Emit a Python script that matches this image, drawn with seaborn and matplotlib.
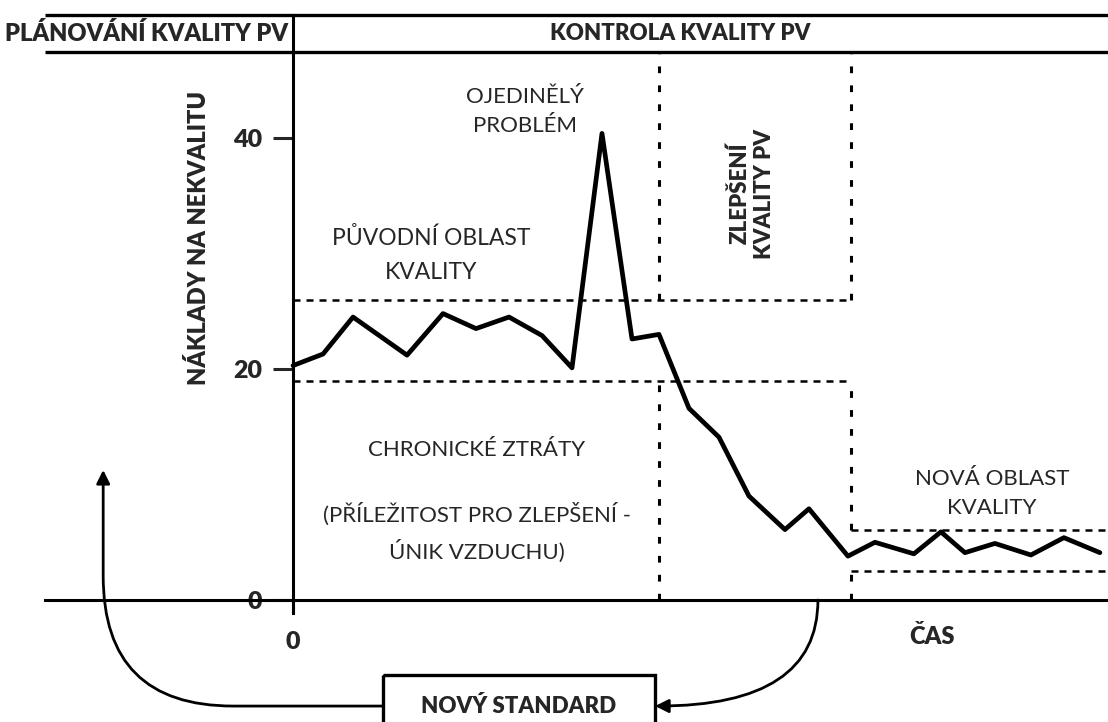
import matplotlib
matplotlib.use("Agg")
import matplotlib.pyplot as plt
import matplotlib.patches as patches
import seaborn as sns

# --- data (time in arbitrary units, cost of poor quality) ---
cas = [0, 1.0, 2.0, 3.8, 5.0, 6.1, 7.2, 8.3, 9.3, 10.3, 11.3, 12.2, 13.2,
       14.2, 15.2, 16.4, 17.2, 18.5, 19.4, 20.7, 21.6, 22.4, 23.4, 24.6, 25.7, 26.9]
naklady = [20.3, 21.3, 24.5, 21.2, 24.8, 23.5, 24.5, 22.9, 20.1, 40.4, 22.6, 23.0, 16.6,
           14.1, 9.0, 6.1, 7.9, 3.8, 5.0, 4.0, 5.9, 4.1, 4.9, 3.9, 5.4, 4.1]
y_ticks = [0, 20, 40]
x_ticks = [0]

# zones
puvodni_horni, puvodni_dolni = 26.0, 19.0   # original zone of quality
nova_horni, nova_dolni = 6.1, 2.5           # new zone of quality
zlepseni_od, zlepseni_do = 12.2, 18.6       # quality improvement period
pasmo_dole, pasmo_nahore = 47.45, 50.65     # header band

sns.set_style("white")
plt.rcParams['font.family'] = ['Lato', 'DejaVu Sans']
TUCNE = "heavy"

fig = plt.figure(figsize=(11.08, 7.22), dpi=100)
ax = fig.add_axes([0, 0, 1, 1])
ax.set_xlim(-9.77, 27.17)
ax.set_ylim(-10.56, 51.95)

sns.lineplot(x=cas, y=naklady, color="black", linewidth=3.4, ax=ax)

# axes as spines through origin
for s in ["top", "right"]:
    ax.spines[s].set_visible(False)
ax.spines["left"].set_position(("data", 0))
ax.spines["bottom"].set_position(("data", 0))
ax.spines["left"].set_bounds(-1.1, pasmo_nahore)
ax.spines["bottom"].set_bounds(-8.27, 27.17)
for s in ["left", "bottom"]:
    ax.spines[s].set_linewidth(2.2)
    ax.spines[s].set_color("black")

ax.set_yticks(y_ticks)
ax.set_yticklabels([str(v) for v in y_ticks], fontweight=TUCNE, fontsize=18)
ax.set_xticks(x_ticks)
ax.set_xticklabels([str(v) for v in x_ticks], fontweight=TUCNE, fontsize=18)
ax.tick_params(axis="y", direction="out", length=14.4, width=2.2, pad=8, left=True)
ax.tick_params(axis="x", direction="out", length=9, width=2.2, pad=13, bottom=True)
ax.get_yticklabels()[0].set_bbox(dict(facecolor="white", edgecolor="none", pad=6))

ax.set_ylabel("NÁKLADY NA NEKVALITU", fontweight=TUCNE, fontsize=17)
ax.yaxis.set_label_coords(210 / 1108, 1 - 238 / 722)
ax.set_xlabel("ČAS", fontweight=TUCNE, fontsize=17)
ax.xaxis.set_label_coords(932 / 1108, 1 - 637 / 722)
ax.xaxis.label.set_va("center")

# header band
ax.hlines([pasmo_dole, pasmo_nahore], -8.27, 27.17, color="black", linewidth=2.4)
ax.text(-4.9, 49.05, "PLÁNOVÁNÍ KVALITY PV", ha="center", va="center",
        fontweight=TUCNE, fontsize=17)
ax.text(12.9, 49.05, "KONTROLA KVALITY PV", ha="center", va="center",
        fontweight=TUCNE, fontsize=16)

# dashed zones
hdash = (0, (2.8, 2.4))
vdash = (0, (2.2, 4.0))
ax.hlines([puvodni_horni, puvodni_dolni], 0, zlepseni_do, color="black",
          linewidth=1.8, linestyle=hdash)
ax.hlines([nova_horni, nova_dolni], zlepseni_do, 27.17, color="black",
          linewidth=1.8, linestyle=hdash)
ax.vlines([zlepseni_od, zlepseni_do], puvodni_horni, pasmo_dole, color="black",
          linewidth=2.2, linestyle=vdash)
ax.vlines(zlepseni_od, 0, puvodni_dolni, color="black", linewidth=2.2, linestyle=vdash)
ax.vlines(zlepseni_do, nova_horni, puvodni_dolni, color="black", linewidth=2.2, linestyle=vdash)
ax.vlines(zlepseni_do, 0, nova_dolni, color="black", linewidth=2.2, linestyle=vdash)

# annotations
ax.text(7.73, 42.3, "OJEDINĚLÝ\nPROBLÉM", ha="center", va="center", fontsize=16,
        linespacing=1.55)
ax.text(4.6, 29.9, "PŮVODNÍ OBLAST\nKVALITY", ha="center", va="center", fontsize=16.5,
        linespacing=1.75)
ax.text(6.13, 13.0, "CHRONICKÉ ZTRÁTY", ha="center", va="center", fontsize=16)
ax.text(6.13, 5.8, "(PŘÍLEŽITOST PRO ZLEPŠENÍ -\nÚNIK VZDUCHU)", ha="center",
        va="center", fontsize=16, linespacing=1.7)
ax.text(23.3, 9.2, "NOVÁ OBLAST\nKVALITY", ha="center", va="center", fontsize=16,
        linespacing=1.55)
ax.text(15.3, 35.2, "ZLEPŠENÍ\nKVALITY PV", ha="center", va="center", fontsize=16,
        fontweight=TUCNE, rotation=90, linespacing=1.2)

# new standard box and feedback arrows
ax.add_patch(patches.Rectangle((3.0, -6.5), 9.07, -6, fill=False,
                               edgecolor="black", linewidth=2.4))
ax.text(7.53, -9.18, "NOVÝ STANDARD", ha="center", va="center",
        fontweight=TUCNE, fontsize=16)
ax.annotate("", xy=(12.07, -9.18), xytext=(17.5, 0),
            arrowprops=dict(arrowstyle="-|>", mutation_scale=20, color="black", lw=2,
                            shrinkA=0, shrinkB=0,
                            connectionstyle="angle3,angleA=-90,angleB=0"))
ax.annotate("", xy=(-6.33, 11.26), xytext=(3.0, -9.18),
            arrowprops=dict(arrowstyle="-|>", mutation_scale=20, color="black", lw=2,
                            shrinkA=0, shrinkB=0,
                            connectionstyle="angle,angleA=0,angleB=90,rad=130"))

fig.savefig("out.png", dpi=100)
